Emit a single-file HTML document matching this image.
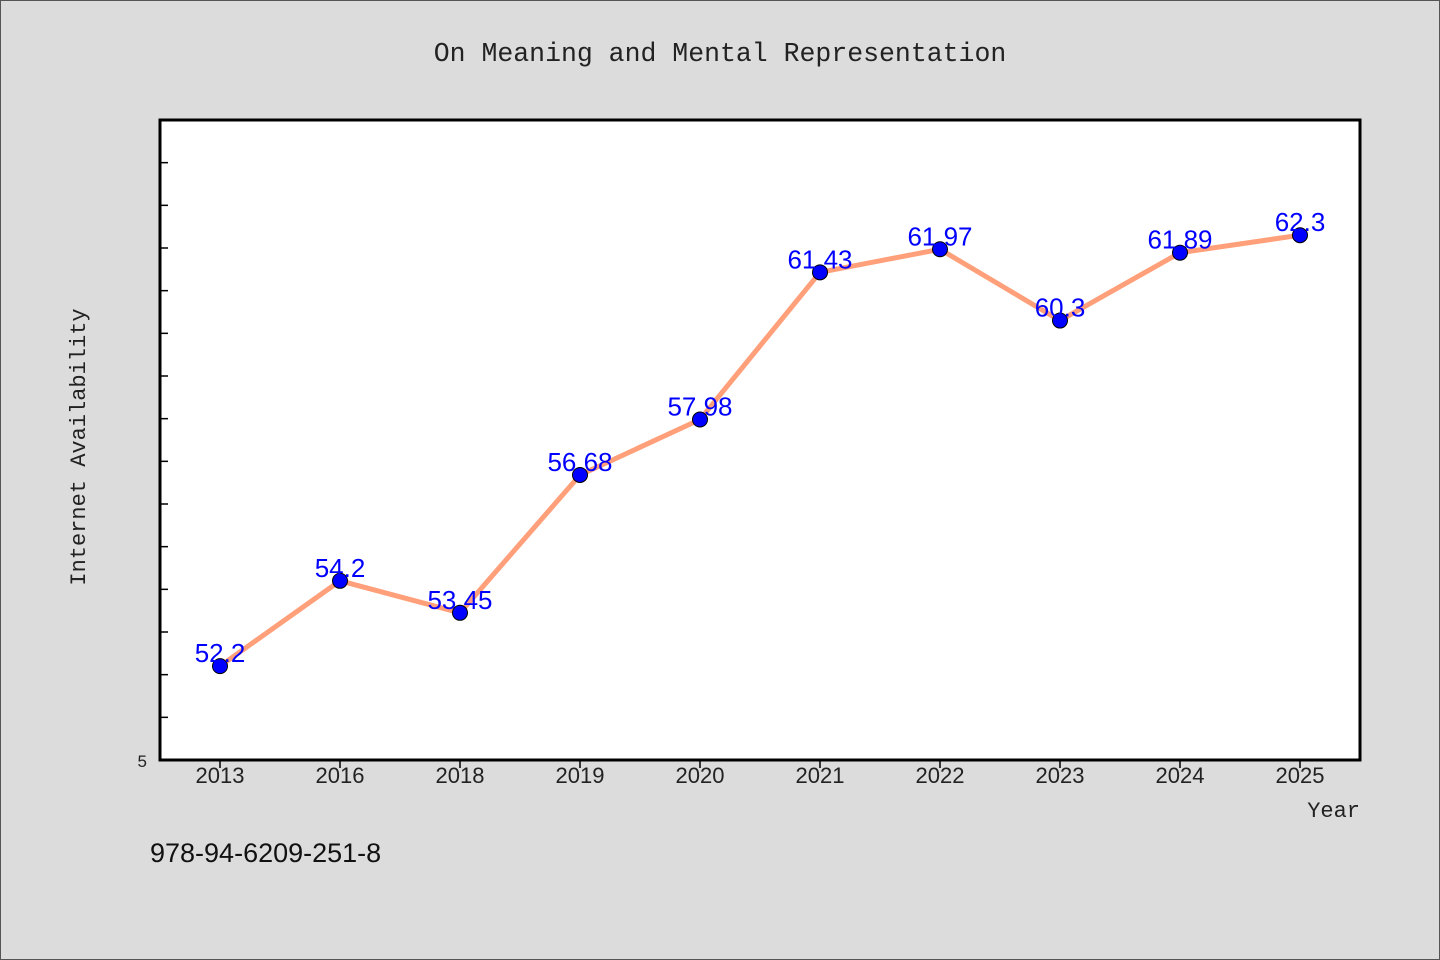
<!DOCTYPE html>
<html><head><meta charset="utf-8"><style>
html,body{margin:0;padding:0;background:#dcdcdc;}
svg{display:block;}
</style></head><body>
<svg width="1440" height="960" xmlns="http://www.w3.org/2000/svg">
<rect x="0.5" y="0.5" width="1439" height="959" fill="#dcdcdc" stroke="#555"/>
<text x="720" y="61" text-anchor="middle" font-family="Liberation Mono, monospace" font-size="26.5" fill="#222">On Meaning and Mental Representation</text>
<rect x="160" y="120" width="1200" height="640" fill="#fff"/>
<g id="yticks"></g><g id="xticks"></g>
<polyline id="line" fill="none" stroke="#ffa07a" stroke-width="5" stroke-linejoin="round"/>
<g id="pts"></g>
<rect x="160" y="120" width="1200" height="640" fill="none" stroke="#000" stroke-width="3"/>
<text x="147" y="767" text-anchor="end" font-family="Liberation Sans, sans-serif" font-size="17" fill="#222">5</text>
<text transform="translate(85,447) rotate(-90)" text-anchor="middle" font-family="Liberation Mono, monospace" font-size="22" fill="#222">Internet Availability</text>
<text x="1360" y="817" text-anchor="end" font-family="Liberation Mono, monospace" font-size="22" fill="#222">Year</text>
<text x="150" y="862" font-family="Liberation Sans, sans-serif" font-size="27" fill="#111">978-94-6209-251-8</text>
</svg>
<script>
const categories=["2013","2016","2018","2019","2020","2021","2022","2023","2024","2025"];
const values=[52.2,54.2,53.45,56.68,57.98,61.43,61.97,60.3,61.89,62.3];
const labels=["52.2","54.2","53.45","56.68","57.98","61.43","61.97","60.3","61.89","62.3"];
const yMin=50,yMax=65;
const NS="http://www.w3.org/2000/svg";
function xs(i){return 220+i*120;}
function ys(v){return 760-(v-yMin)/(yMax-yMin)*640;}
const yt=document.getElementById('yticks');
for(let v=yMin+1;v<yMax;v++){
 const l=document.createElementNS(NS,'line');
 l.setAttribute('x1',160);l.setAttribute('x2',168);l.setAttribute('y1',ys(v));l.setAttribute('y2',ys(v));
 l.setAttribute('stroke','#000');l.setAttribute('stroke-width','1.5');
 
 
 yt.appendChild(l);
}
const xt=document.getElementById('xticks');
const pts=document.getElementById('pts');
let p=[];
categories.forEach((c,i)=>{
 const x=xs(i),y=ys(values[i]);
 p.push(x+','+y);
 const t=document.createElementNS(NS,'line');
 t.setAttribute('x1',x);t.setAttribute('x2',x);t.setAttribute('y1',760);t.setAttribute('y2',768);
 t.setAttribute('stroke','#000');t.setAttribute('stroke-width','1.5');
 
 
 xt.appendChild(t);
 const tl=document.createElementNS(NS,'text');
 tl.setAttribute('x',x);tl.setAttribute('y',783);tl.setAttribute('text-anchor','middle');
 tl.setAttribute('font-family','Liberation Sans, sans-serif');tl.setAttribute('font-size','22');tl.setAttribute('fill','#222');
 tl.textContent=c;
 
 
 xt.appendChild(tl);
 const ci=document.createElementNS(NS,'circle');
 ci.setAttribute('cx',x);ci.setAttribute('cy',y);ci.setAttribute('r',7.5);
 ci.setAttribute('fill','#0000ff');ci.setAttribute('stroke','#000');ci.setAttribute('stroke-width','1');
 
 
 pts.appendChild(ci);
 const dl=document.createElementNS(NS,'text');
 dl.setAttribute('x',x);dl.setAttribute('y',y-4);dl.setAttribute('text-anchor','middle');
 dl.setAttribute('font-family','Liberation Sans, sans-serif');dl.setAttribute('font-size','26');dl.setAttribute('fill','#0000ff');
 dl.textContent=labels[i];
 
 
 pts.appendChild(dl);
});
document.getElementById('line').setAttribute('points',p.join(' '));
</script>
</body></html>
